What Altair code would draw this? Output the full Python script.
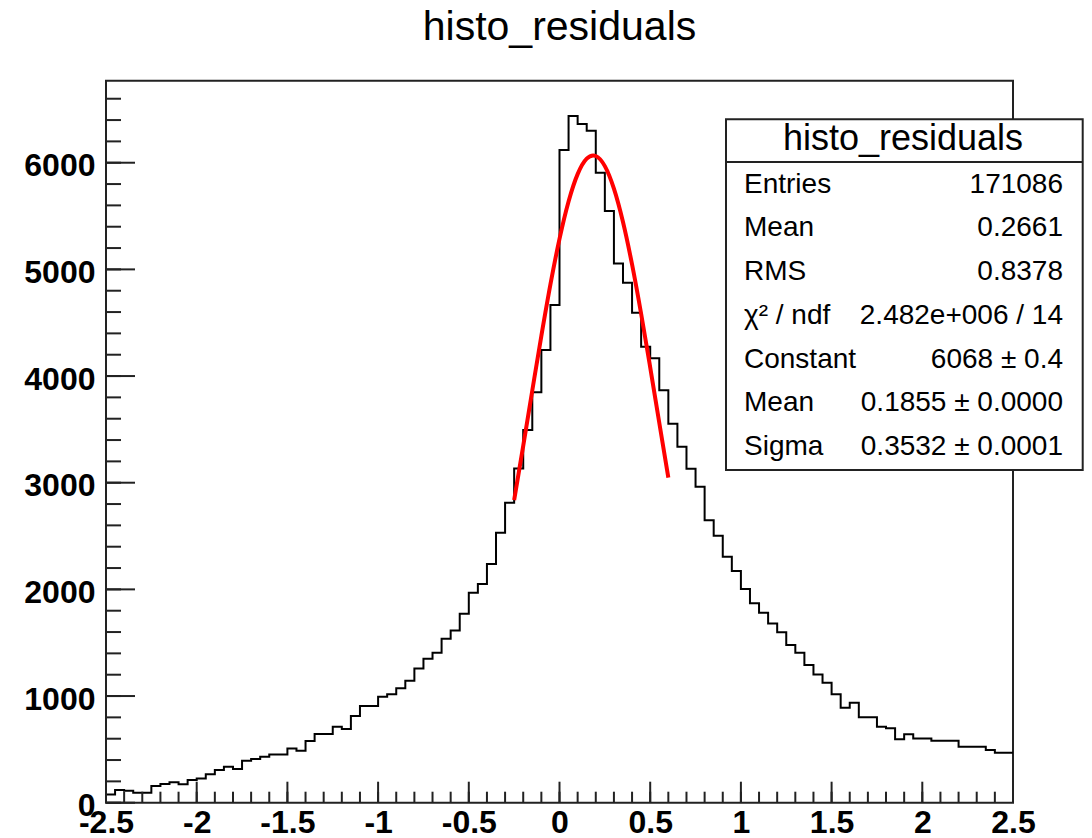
import altair as alt
import pandas as pd

# ---------------- data ----------------
x_min, x_max, bin_width = -2.5, 2.5, 0.05
counts = [78, 119, 112, 94, 94, 156, 175, 191, 172, 212,
          228, 266, 306, 338, 316, 394, 409, 431, 453, 453,
          509, 488, 578, 644, 644, 712, 691, 812, 906, 906,
          994, 1016, 1072, 1144, 1259, 1350, 1406, 1538, 1615, 1772,
          1969, 2050, 2237, 2531, 2812, 3134, 3494, 3847, 4244, 4666,
          6119, 6438, 6363, 6300, 5906, 5547, 5056, 4875, 4594, 4275,
          4166, 3866, 3553, 3338, 3131, 2963, 2647, 2503, 2306, 2172,
          2003, 1869, 1781, 1681, 1597, 1478, 1406, 1291, 1203, 1125,
          1016, 891, 938, 800, 800, 713, 697, 594, 641, 603,
          603, 581, 581, 581, 525, 525, 525, 494, 469, 469]

fit_x = [-0.25, -0.2, -0.15, -0.1, -0.05, 0.0, 0.05, 0.1, 0.15, 0.1855,
         0.2, 0.25, 0.3, 0.35, 0.4, 0.45, 0.5, 0.55, 0.6]
fit_y = [2837, 3345, 3865, 4377, 4859, 5286, 5637, 5893, 6038, 6068,
         6063, 5968, 5757, 5444, 5046, 4584, 4082, 3562, 3048]

y_max = 6769
x_major = [-2.5, -2, -1.5, -1, -0.5, 0, 0.5, 1, 1.5, 2, 2.5]
x_minor = [round(-2.5 + 0.1 * i, 2) for i in range(51)]
y_major = [0, 1000, 2000, 3000, 4000, 5000, 6000]
y_minor = [200 * i for i in range(34)]

title_text = "histo_residuals"
stat_names = ["Entries", "Mean", "RMS", "\u03c7\u00b2 / ndf", "Constant", "Mean", "Sigma"]
stat_values = ["171086", "0.2661", "0.8378", "2.482e+006 / 14",
               "6068 \u00b1 0.4", "0.1855 \u00b1 0.0000", "0.3532 \u00b1 0.0001"]

# ---------------- tables ----------------
edges = [round(x_min + bin_width * i, 4) for i in range(len(counts) + 1)]
hist_df = pd.DataFrame({"x": edges, "count": counts + [counts[-1]]})
fit_df = pd.DataFrame({"x": fit_x, "y": fit_y})
stats_df = pd.DataFrame({"row": list(range(len(stat_names))),
                         "name": stat_names, "val": stat_values})

FONT = "Liberation Sans"
INK = "#222222"
W, H = 907, 722

xs = alt.Scale(domain=[x_min, x_max], nice=False, zero=False)
ys = alt.Scale(domain=[0, y_max], nice=False, zero=False)

hist = alt.Chart(hist_df).mark_line(
    interpolate="step-after", color="black", strokeWidth=2
).encode(
    x=alt.X("x:Q", scale=xs, axis=alt.Axis(
        values=x_major, labelExpr="'' + datum.value", ticks=False, domain=False,
        grid=False, title=None, labelFont=FONT, labelFontSize=32,
        labelFontWeight="bold", labelColor="black", labelPadding=5,
        labelFlush=False, labelOverlap=False, orient="bottom")),
    y=alt.Y("count:Q", scale=ys, axis=alt.Axis(
        values=y_major, labelExpr="'' + datum.value", ticks=False, domain=False,
        grid=False, title=None, labelFont=FONT, labelFontSize=32,
        labelFontWeight="bold", labelColor="black", labelPadding=11,
        labelOffset=3, labelOverlap=False, orient="left")),
)

fit = alt.Chart(fit_df).mark_line(
    interpolate="monotone", color="#ff0000", strokeWidth=4
).encode(
    x=alt.X("x:Q", scale=xs),
    y=alt.Y("y:Q", scale=ys),
)

def yticks(vals, length):
    return alt.Chart(pd.DataFrame({"v": vals})).mark_rule(
        color=INK, strokeWidth=2
    ).encode(
        y=alt.Y("v:Q", scale=ys),
        x=alt.value(0), x2=alt.value(length),
    )

def xticks(vals, length):
    return alt.Chart(pd.DataFrame({"v": vals})).mark_rule(
        color=INK, strokeWidth=2
    ).encode(
        x=alt.X("v:Q", scale=xs),
        y=alt.value(H), y2=alt.value(H - length),
    )

one = pd.DataFrame({"k": [0]})
title_mark = alt.Chart(one).mark_text(
    text=title_text, font=FONT, fontSize=41, align="center",
    baseline="alphabetic", color="black"
).encode(x=alt.value(W / 2), y=alt.value(-40.7))

box = alt.Chart(one).mark_rect(fill="white", stroke=INK, strokeWidth=2).encode(
    x=alt.value(620), x2=alt.value(976.7), y=alt.value(38.6), y2=alt.value(389.3)
)
sep = alt.Chart(one).mark_rule(color=INK, strokeWidth=2).encode(
    x=alt.value(620), x2=alt.value(976.7), y=alt.value(81.3)
)
header = alt.Chart(one).mark_text(
    text=title_text, font=FONT, fontSize=36, align="center",
    baseline="alphabetic", color="black"
).encode(x=alt.value(797), y=alt.value(69.3))

row_layers = []
for i in range(len(stat_names)):
    ypos = 112 + 43.7 * i
    base = alt.Chart(stats_df).transform_filter(alt.datum.row == i)
    row_layers.append(base.mark_text(
        font=FONT, fontSize=28, align="left", baseline="alphabetic", color="black"
    ).encode(x=alt.value(638), y=alt.value(ypos), text="name:N"))
    row_layers.append(base.mark_text(
        font=FONT, fontSize=28, align="right", baseline="alphabetic", color="black"
    ).encode(x=alt.value(957), y=alt.value(ypos), text="val:N"))

chart = alt.layer(
    hist,
    yticks(y_minor, 15), yticks(y_major, 29),
    xticks(x_minor, 11), xticks(x_major, 21),
    fit, title_mark, box, sep, header, *row_layers,
).properties(
    width=W, height=H,
    background="white",
    padding={"left": 106, "top": 80.7, "right": 79, "bottom": 35.3},
    autosize=alt.AutoSizeParams(type="none"),
).configure_view(stroke=INK, strokeWidth=2)

chart.save("out.html", embed_options={"renderer": "svg", "actions": False})
